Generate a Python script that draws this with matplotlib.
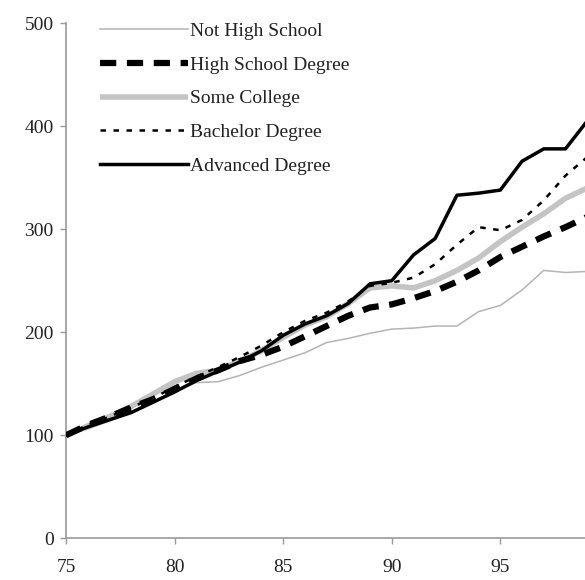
import matplotlib.pyplot as plt

# ---------------------------------------------------------
# DATA (index, 1975 = 100)
# ---------------------------------------------------------
years = list(range(75, 100))

not_high_school = [100, 106, 114, 122, 132, 143, 151, 152, 158, 166,
                   173, 180, 190, 194, 199, 203, 204, 206, 206, 220,
                   226, 241, 260, 258, 259]
high_school = [100, 110, 118, 127, 135, 145, 155, 163, 172, 178,
               186, 196, 206, 216, 224, 227, 233, 240, 249, 260,
               273, 283, 293, 302, 312]
some_college = [100, 109, 118, 128, 140, 152, 160, 163, 172, 182,
                195, 207, 215, 228, 243, 245, 243, 250, 260, 272,
                288, 302, 315, 330, 340]
bachelor = [100, 110, 118, 127, 136, 147, 157, 166, 176, 187,
            200, 211, 219, 230, 245, 248, 253, 266, 285, 302,
            299, 309, 328, 352, 370]
advanced = [100, 108, 115, 122, 132, 142, 153, 162, 171, 182,
            197, 208, 216, 228, 247, 250, 275, 291, 333, 335,
            338, 366, 378, 378, 405]

labels = ["Not High School", "High School Degree", "Some College",
          "Bachelor Degree", "Advanced Degree"]

x_ticks = [75, 80, 85, 90, 95]
y_ticks = [0, 100, 200, 300, 400, 500]

# ---------------------------------------------------------
# PLOT
# ---------------------------------------------------------
plt.rcParams['font.family'] = ['Liberation Serif', 'DejaVu Serif']
plt.rcParams['font.size'] = 14

fig = plt.figure(figsize=(5.85, 5.8), dpi=100)
ax = fig.add_axes([0.113, 0.072, 0.887, 0.888])

ax.plot(years, not_high_school, color="#b4b4b4", lw=1.1, label=labels[0], zorder=2)
ax.plot(years, high_school, color="black", lw=4.5, dashes=(2.6, 1.7),
        dash_capstyle="butt", label=labels[1], zorder=4)
ax.plot(years, some_college, color="#c4c4c4", lw=4.0, solid_capstyle="butt",
        label=labels[2], zorder=3)
ax.plot(years, bachelor, color="black", lw=1.8, dashes=(2.2, 3.0),
        label=labels[3], zorder=5)
ax.plot(years, advanced, color="black", lw=2.5, label=labels[4], zorder=6)

ax.set_xlim(75, 98.9)
ax.set_ylim(0, 500)
ax.set_xticks(x_ticks)
ax.set_yticks(y_ticks)

for s in ["top", "right"]:
    ax.spines[s].set_visible(False)
for s in ["left", "bottom"]:
    ax.spines[s].set_color("#9a9a9a")
    ax.spines[s].set_linewidth(1.2)

ax.tick_params(axis="both", colors="#9a9a9a", length=4, width=1.0,
               labelcolor="#222222", labelsize=14)
ax.tick_params(axis="x", pad=11)
ax.tick_params(axis="y", pad=5)

leg = ax.legend(loc="upper left", bbox_to_anchor=(0.032, 1.035), frameon=False,
                handlelength=4.5, handletextpad=0.1, labelspacing=0.82,
                fontsize=14)
for t in leg.get_texts():
    t.set_color("#222222")

fig.savefig("out.png", dpi=100)
